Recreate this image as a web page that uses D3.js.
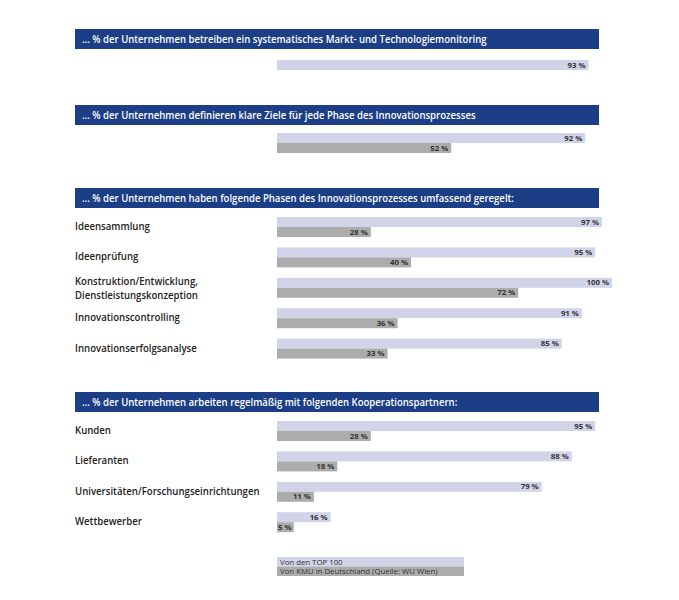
<!DOCTYPE html>
<html>
<head>
<meta charset="utf-8">
<script src="https://cdn.jsdelivr.net/npm/d3@7"></script>
<style>
  body { margin: 0; background: #fff; }
  text { font-family: "Open Sans", sans-serif; }
</style>
</head>
<body>
<div id="chart"></div>
<script>
const headers = [
  '... % der Unternehmen betreiben ein systematisches Markt- und Technologiemonitoring',
  '... % der Unternehmen definieren klare Ziele für jede Phase des Innovationsprozesses',
  '... % der Unternehmen haben folgende Phasen des Innovationsprozesses umfassend geregelt:',
  '... % der Unternehmen arbeiten regelmäßig mit folgenden Kooperationspartnern:'
];

const monitoringLabels = [''];
const monitoringTop = [93];
const monitoringKmu = [null];

const goalLabels = [''];
const goalTop = [92];
const goalKmu = [52];

const phaseLabels = ['Ideensammlung', 'Ideenprüfung', 'Konstruktion/Entwicklung,|Dienstleistungskonzeption', 'Innovationscontrolling', 'Innovationserfolgsanalyse'];
const phaseTop = [97, 95, 100, 91, 85];
const phaseKmu = [28, 40, 72, 36, 33];

const partnerLabels = ['Kunden', 'Lieferanten', 'Universitäten/Forschungseinrichtungen', 'Wettbewerber'];
const partnerTop = [95, 88, 79, 16];
const partnerKmu = [28, 18, 11, 5];

const legendLabels = ['Von den TOP 100', 'Von KMU in Deutschland (Quelle: WU Wien)'];

const W = 679, H = 600;
const colors = { header: '#1c3e86', top: '#d1d3e8', kmu: '#acacac', text: '#222' };

const svg = d3.select('#chart').append('svg')
  .attr('width', W)
  .attr('height', H);
svg.append('rect').attr('width', W).attr('height', H).attr('fill', '#fff');

const x = d3.scaleLinear().domain([0, 100]).range([277, 612]);
const barH = 10;
const rowStep = 30.4;

// squeeze text a bit, the original uses a condensed face
function condense(sel, k) {
  const w = sel.node().getComputedTextLength();
  sel.attr('textLength', w * k).attr('lengthAdjust', 'spacingAndGlyphs');
}

const sections = [
  { headY: 29, rowY: 60, labels: monitoringLabels, top: monitoringTop, kmu: monitoringKmu },
  { headY: 105, rowY: 133, labels: goalLabels, top: goalTop, kmu: goalKmu },
  { headY: 188, rowY: 217, labels: phaseLabels, top: phaseTop, kmu: phaseKmu },
  { headY: 392, rowY: 421, labels: partnerLabels, top: partnerTop, kmu: partnerKmu }
];

sections.forEach((s, si) => {
  const g = svg.append('g');
  g.append('rect')
    .attr('x', 75).attr('y', s.headY)
    .attr('width', 524).attr('height', 20)
    .attr('fill', colors.header);
  g.append('text')
    .attr('x', 82).attr('y', s.headY + 14)
    .attr('fill', '#fff')
    .attr('font-size', 10.8)
    .attr('font-weight', 600)
    .text(headers[si])
    .call(condense, 0.885);

  const rows = s.labels.map((l, i) => ({ label: l, top: s.top[i], kmu: s.kmu[i], y: s.rowY + i * rowStep }));

  const row = g.selectAll('g.row').data(rows).enter().append('g').attr('class', 'row');

  row.each(function (d) {
    const r = d3.select(this);
    const lines = d.label ? d.label.split('|') : [];
    lines.forEach((line, li) => {
      r.append('text')
        .attr('x', 75)
        .attr('y', lines.length > 1 ? d.y + 7 + li * 14 : d.y + 13)
        .attr('fill', colors.text)
        .attr('font-size', lines.length > 1 ? 10.4 : 10.8)
        .attr('font-weight', 600)
        .text(line)
        .call(condense, lines.length > 1 ? 0.92 : 0.89);
    });
    const bars = [{ v: d.top, c: colors.top, dy: 0 }];
    if (d.kmu != null) bars.push({ v: d.kmu, c: colors.kmu, dy: barH });
    bars.forEach(b => {
      r.append('rect')
        .attr('x', x(0)).attr('y', d.y + b.dy)
        .attr('width', x(b.v) - x(0)).attr('height', barH)
        .attr('fill', b.c);
      const t = r.append('text')
        .attr('y', d.y + b.dy + 7.5)
        .attr('fill', '#333')
        .attr('font-size', 7.8)
        .attr('font-weight', 700)
        .attr('text-anchor', 'end')
        .text(b.v + ' %');
      const tw = t.node().getComputedTextLength();
      t.attr('x', Math.max(x(b.v) - 3, x(0) + 1 + tw));
    });
  });
});

// legend
const legend = svg.append('g').attr('transform', 'translate(277, 557)');
legend.selectAll('rect').data(legendLabels).enter().append('rect')
  .attr('x', 0).attr('y', (_, i) => i * 9.5)
  .attr('width', 187).attr('height', 9.5)
  .attr('fill', (_, i) => i === 0 ? colors.top : colors.kmu);
legend.selectAll('text').data(legendLabels).enter().append('text')
  .attr('x', 3).attr('y', (_, i) => i * 9.5 + 7.5)
  .attr('fill', '#333')
  .attr('font-size', 7.8)
  .text(d => d);
</script>
</body>
</html>
